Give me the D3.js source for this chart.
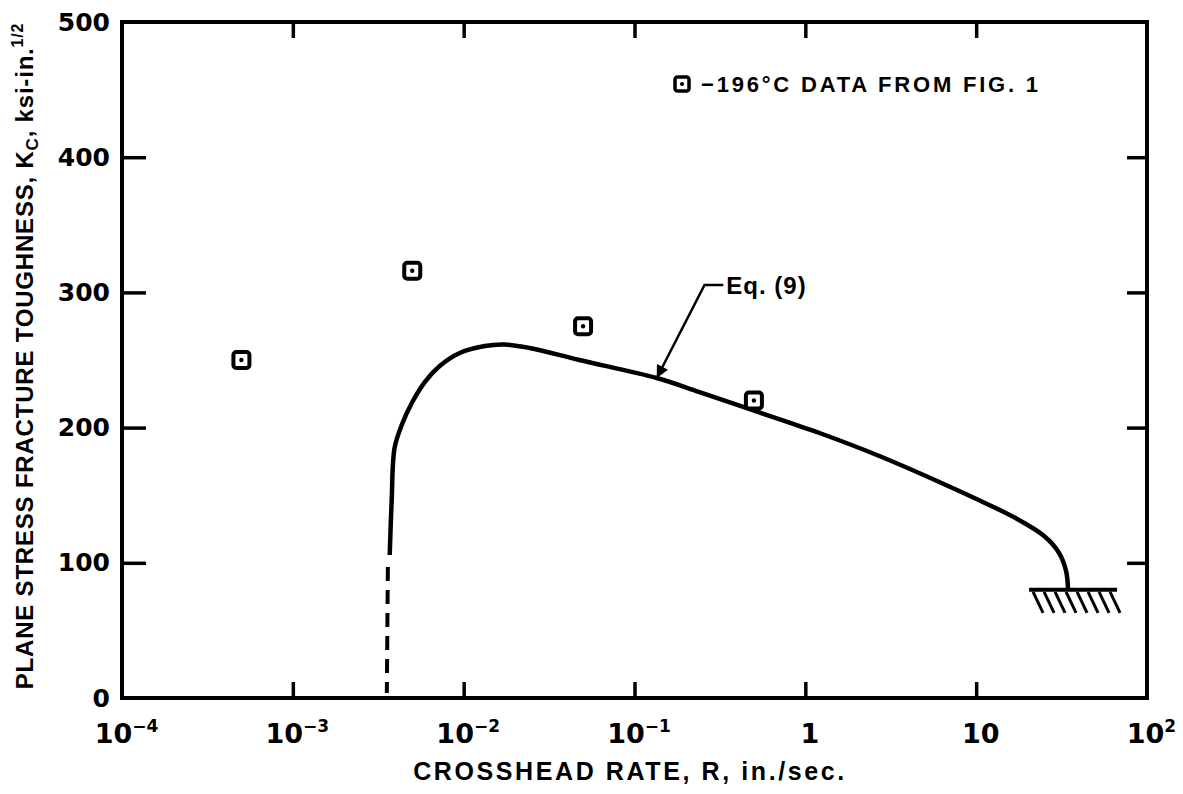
<!DOCTYPE html>
<html>
<head>
<meta charset="utf-8">
<script src="https://cdn.jsdelivr.net/npm/d3@7"></script>
<style>
  body { margin: 0; background: #fff; }
  text { font-family: "Liberation Sans", Arial, sans-serif; font-weight: bold; fill: #000; }
  .num { font-family: "DejaVu Sans", sans-serif; }
</style>
</head>
<body>
<div id="chart"></div>
<script>
// values
const xTickValues = [1e-4, 1e-3, 1e-2, 1e-1, 1, 10, 100];
const xTickLabels = [["10", "-4"], ["10", "-3"], ["10", "-2"], ["10", "-1"], ["1", ""], ["10", ""], ["10", "2"]];
const yTickValues = [0, 100, 200, 300, 400, 500];

// -196 C test points
const pointR = [5e-4, 5e-3, 5e-2, 0.5];
const pointK = [250, 316, 275, 220];

// Eq. (9) curve, solid part
const curveR = [3.69e-3, 3.79e-3, 3.94e-3, 4.34e-3, 4.97e-3, 5.92e-3, 7.24e-3, 9.48e-3, 0.0133, 0.0174, 0.0243,
  0.0476, 0.135, 0.240, 0.516, 1.21, 2.71, 6.08, 11.9, 17.8, 25.0, 30.6, 33.6, 34.5];
const curveK = [105.8, 146.4, 184.9, 201.9, 218.2, 233.7, 245.6, 255.2, 260.4, 261.5, 258.9,
  250.0, 236.7, 226.3, 212.0, 196.0, 179.0, 159.8, 142.8, 131.7, 119.8, 107.2, 93.9, 79.9];
// dashed extension down towards zero
const dashR = [3.60e-3, 3.55e-3];
const dashK = [96.9, 3.7];

// fixed support (hatched wall) at the end of the curve
const wallR = [20.4, 66.8];
const wallK = 80;

// Eq. (9) leader: end of horizontal, corner, arrow tip
const leaderR = [0.331, 0.257, 0.135];
const leaderK = [305.5, 305.5, 236.7];

const width = 1183, height = 794;
const svg = d3.select("#chart").append("svg")
  .attr("width", width)
  .attr("height", height);

const x = d3.scaleLog().domain([1e-4, 1e2]).range([122, 1147]);
const y = d3.scaleLinear().domain([0, 500]).range([698, 22]);

// inner ticks on all four sides
const gBottom = svg.append("g").attr("transform", `translate(0,${y(0)})`)
  .call(d3.axisBottom(x).tickValues(xTickValues).tickSize(-16).tickFormat(""));
const gTop = svg.append("g").attr("transform", `translate(0,${y(500)})`)
  .call(d3.axisTop(x).tickValues(xTickValues.slice(1, -1)).tickSize(-16).tickFormat(""));
const gLeft = svg.append("g").attr("transform", `translate(${x(1e-4)},0)`)
  .call(d3.axisLeft(y).tickValues(yTickValues).tickSize(-24).tickPadding(12));
const gRight = svg.append("g").attr("transform", `translate(${x(1e2)},0)`)
  .call(d3.axisRight(y).tickValues(yTickValues.slice(1, -1)).tickSize(-20).tickFormat(""));

[gBottom, gTop, gLeft, gRight].forEach(g => {
  g.select(".domain").remove();
  g.selectAll(".tick line").attr("stroke", "#000").attr("stroke-width", 3.5);
});
gBottom.selectAll(".tick line").filter(d => d === 1e-4 || d === 1e2).remove();
gLeft.selectAll(".tick line").filter(d => d === 0 || d === 500).remove();

gLeft.selectAll(".tick text")
  .attr("class", "num")
  .style("font-size", "25px")
  .attr("fill", "#000");

gBottom.selectAll(".tick text").remove();
gBottom.selectAll(".tick").append("text")
  .attr("class", "num")
  .attr("y", 45)
  .attr("x", 4)
  .attr("text-anchor", "middle")
  .style("font-size", "27px")
  .each(function (d, i) {
    const t = d3.select(this);
    const [base, exp] = xTickLabels[i];
    t.append("tspan").text(base);
    if (exp) t.append("tspan").attr("dy", -11).style("font-size", "17px").text(exp.replace("-", "\u2212"));
  });

// frame
svg.append("rect")
  .attr("x", x(1e-4)).attr("y", y(500))
  .attr("width", x(1e2) - x(1e-4)).attr("height", y(0) - y(500))
  .attr("fill", "none").attr("stroke", "#000").attr("stroke-width", 4);

const line = d3.line().x(d => x(d[0])).y(d => y(d[1])).curve(d3.curveCatmullRom.alpha(0.5));

svg.append("path")
  .datum(curveR.map((r, i) => [r, curveK[i]]))
  .attr("d", line)
  .attr("fill", "none").attr("stroke", "#000").attr("stroke-width", 4.5)
  .attr("stroke-linejoin", "round");

svg.append("path")
  .datum(dashR.map((r, i) => [r, dashK[i]]))
  .attr("d", d3.line().x(d => x(d[0])).y(d => y(d[1])))
  .attr("fill", "none").attr("stroke", "#000").attr("stroke-width", 4)
  .attr("stroke-dasharray", "14 9");

// hatched support
const wy = y(wallK);
svg.append("line")
  .attr("x1", x(wallR[0])).attr("x2", x(wallR[1]))
  .attr("y1", wy).attr("y2", wy)
  .attr("stroke", "#000").attr("stroke-width", 4);
const hatch = d3.range(8);
svg.selectAll(".hatch").data(hatch).enter().append("line")
  .attr("class", "hatch")
  .attr("x1", k => x(wallR[0]) + 4 + k * 11).attr("y1", wy + 2)
  .attr("x2", k => x(wallR[0]) + 14 + k * 11).attr("y2", wy + 23)
  .attr("stroke", "#000").attr("stroke-width", 3);

// data points
const pts = svg.selectAll(".pt").data(pointR.map((r, i) => [r, pointK[i]])).enter().append("g")
  .attr("class", "pt")
  .attr("transform", d => `translate(${x(d[0])},${y(d[1])})`);
pts.append("rect").attr("x", -8).attr("y", -8).attr("width", 16).attr("height", 16).attr("rx", 3)
  .attr("fill", "#fff").attr("stroke", "#000").attr("stroke-width", 4);
pts.append("circle").attr("r", 2.2).attr("fill", "#000");

// legend
const lg = svg.append("g").attr("transform", "translate(682,84)");
lg.append("rect").attr("x", -7).attr("y", -7).attr("width", 14).attr("height", 14).attr("rx", 2.5)
  .attr("fill", "#fff").attr("stroke", "#000").attr("stroke-width", 3.5);
lg.append("circle").attr("r", 2).attr("fill", "#000");
lg.append("text").attr("x", 19).attr("y", 8).style("font-size", "22px")
  .style("letter-spacing", "2.8px")
  .text("\u2212196\u00B0C DATA FROM FIG. 1");

// Eq. (9) leader with arrow
svg.append("defs").append("marker")
  .attr("id", "arrow").attr("viewBox", "0 0 10 10")
  .attr("refX", 10).attr("refY", 5)
  .attr("markerWidth", 7).attr("markerHeight", 5).attr("markerUnits", "strokeWidth")
  .attr("orient", "auto")
  .append("path").attr("d", "M0,0 L10,5 L0,10 Z").attr("fill", "#000");
svg.append("path")
  .attr("d", d3.line()(leaderR.map((r, i) => [x(r), y(leaderK[i])])))
  .attr("fill", "none").attr("stroke", "#000").attr("stroke-width", 2.5)
  .attr("marker-end", "url(#arrow)");
svg.append("text")
  .attr("x", x(leaderR[0]) + 3).attr("y", y(leaderK[0]) + 9)
  .style("font-size", "24px")
  .style("letter-spacing", "1px")
  .text("Eq. (9)");

// axis titles
svg.append("text")
  .attr("x", 630).attr("y", 780)
  .attr("text-anchor", "middle")
  .style("font-size", "25px")
  .style("letter-spacing", "2.6px")
  .text("CROSSHEAD RATE, R, in./sec.");

const yl = svg.append("text")
  .attr("transform", "translate(33,356) rotate(-90)")
  .attr("text-anchor", "middle")
  .style("font-size", "24px")
  .style("letter-spacing", "0.8px");
yl.append("tspan").text("PLANE STRESS FRACTURE TOUGHNESS, K");
yl.append("tspan").attr("dy", 5).style("font-size", "17px").text("C");
yl.append("tspan").attr("dy", -5).text(", ksi-in.");
yl.append("tspan").attr("dy", -10).style("font-size", "16px").text("1/2");
</script>
</body>
</html>
